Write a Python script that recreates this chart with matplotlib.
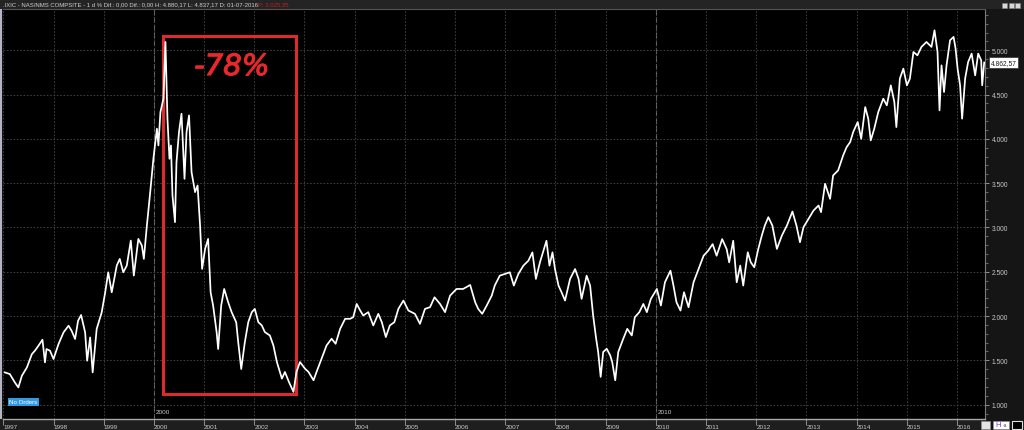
import matplotlib
matplotlib.use('Agg')
from matplotlib import pyplot as plt
from matplotlib.patches import Rectangle
from matplotlib import transforms
import matplotlib.patheffects as pe

W, H = 1024, 431

# Nasdaq composite (decimal year, index level)
dates = [
    1997.03, 1997.13, 1997.23, 1997.30, 1997.37, 1997.47, 1997.57, 1997.63, 1997.70, 1997.78,
    1997.83, 1997.86, 1997.93, 1998.00, 1998.10, 1998.20, 1998.30, 1998.36, 1998.43, 1998.49,
    1998.55, 1998.63, 1998.67, 1998.73, 1998.78, 1998.86, 1998.96, 1999.03, 1999.09, 1999.16,
    1999.26, 1999.32, 1999.39, 1999.46, 1999.54, 1999.60, 1999.69, 1999.76, 1999.80, 1999.86,
    1999.92, 1999.99, 2000.06, 2000.09, 2000.13, 2000.19, 2000.23, 2000.27, 2000.31, 2000.34,
    2000.37, 2000.42, 2000.45, 2000.50, 2000.55, 2000.61, 2000.65, 2000.70, 2000.75, 2000.82,
    2000.87, 2000.92, 2000.96, 2001.02, 2001.08, 2001.13, 2001.18, 2001.25, 2001.28, 2001.34,
    2001.40, 2001.48, 2001.55, 2001.64, 2001.68, 2001.74, 2001.81, 2001.88, 2001.95,
    2002.01, 2002.08, 2002.15, 2002.21, 2002.31, 2002.38, 2002.45, 2002.55, 2002.61, 2002.69,
    2002.78, 2002.84, 2002.91, 2003.01, 2003.08, 2003.18, 2003.24, 2003.34, 2003.44, 2003.54,
    2003.62, 2003.71, 2003.81, 2003.91, 2003.97, 2004.04, 2004.11, 2004.17, 2004.27, 2004.37,
    2004.47, 2004.54, 2004.62, 2004.70, 2004.79, 2004.87, 2004.97, 2005.07, 2005.20, 2005.30,
    2005.40, 2005.50, 2005.59, 2005.70, 2005.80, 2005.90, 2006.03, 2006.16, 2006.30, 2006.40,
    2006.46, 2006.54, 2006.63, 2006.73,
    2006.79, 2006.89, 2006.99, 2007.09, 2007.17, 2007.26, 2007.36, 2007.46, 2007.54, 2007.61,
    2007.69, 2007.76, 2007.82, 2007.88, 2007.94, 2007.99, 2008.06, 2008.12, 2008.19, 2008.29,
    2008.39, 2008.46, 2008.52, 2008.62, 2008.69, 2008.75, 2008.81, 2008.85, 2008.90, 2008.95,
    2009.02, 2009.09, 2009.13, 2009.19, 2009.25, 2009.35, 2009.43, 2009.52, 2009.58, 2009.67,
    2009.75, 2009.82, 2009.90, 2010.02, 2010.10, 2010.18, 2010.29, 2010.35, 2010.41, 2010.49,
    2010.56, 2010.65, 2010.75, 2010.85, 2010.95, 2011.04, 2011.13, 2011.21, 2011.32, 2011.41,
    2011.46, 2011.54,
    2011.61, 2011.68, 2011.74, 2011.83, 2011.89, 2011.96, 2012.04, 2012.11, 2012.17, 2012.24,
    2012.32, 2012.41, 2012.51, 2012.61, 2012.72, 2012.80, 2012.87, 2012.94, 2013.04, 2013.14,
    2013.24, 2013.29, 2013.37, 2013.47, 2013.53, 2013.63, 2013.73, 2013.80, 2013.87, 2013.93,
    2014.02, 2014.09, 2014.17, 2014.23, 2014.28, 2014.35, 2014.43, 2014.53, 2014.60, 2014.68,
    2014.75, 2014.79, 2014.86, 2014.93, 2015.00, 2015.06, 2015.13, 2015.21, 2015.29, 2015.39,
    2015.49, 2015.55, 2015.61, 2015.65, 2015.69, 2015.74, 2015.79, 2015.86, 2015.93, 2015.97,
    2016.01, 2016.06, 2016.10, 2016.16, 2016.22, 2016.29, 2016.36, 2016.42, 2016.48, 2016.50,
    2016.54,
]
closes = [
    1364, 1345, 1251, 1194, 1326, 1420, 1571, 1609, 1665, 1733,
    1477, 1628, 1609, 1515, 1684, 1816, 1891, 1835, 1741, 1948,
    2012, 1816, 1496, 1759, 1364, 1854, 2042, 2268, 2494, 2268,
    2570, 2645, 2494, 2570, 2852, 2457, 2871, 2796, 2645, 3022,
    3361, 3775, 4115, 3926, 4303, 4454, 5094, 4228, 3775, 3926,
    3361, 3060, 3738, 4077, 4284, 3549, 4077, 4265, 3625, 3399,
    3474, 3022, 2532, 2758, 2871, 2268, 2117, 1816, 1628, 2117,
    2306, 2155, 2042, 1929, 1703, 1402, 1700, 1931, 2044,
    2081, 1931, 1894, 1819, 1781, 1669, 1481, 1294, 1369, 1256,
    1144, 1369, 1481, 1406, 1369, 1275, 1369, 1519, 1669, 1744,
    1687, 1856, 1969, 1969, 1987, 2137, 2062, 2006, 2044, 1894,
    2025, 1931, 1763, 1894, 1931, 2081, 2175, 2062, 2025, 1912,
    2081, 2100, 2212, 2137, 2044, 2231, 2306, 2306, 2351, 2156,
    2081, 2025, 2119, 2231,
    2344, 2456, 2475, 2494, 2344, 2475, 2569, 2625, 2719, 2419,
    2606, 2737, 2850, 2569, 2719, 2531, 2344, 2269, 2175, 2419,
    2531, 2419, 2194, 2456, 2344, 2006, 1744, 1594, 1313, 1594,
    1631, 1556, 1481, 1275, 1594, 1744, 1856, 1781, 1987, 2044,
    2137, 2044, 2194, 2306, 2119, 2381, 2512, 2344, 2156, 2062,
    2269, 2100, 2381, 2531, 2681, 2737, 2812, 2681, 2869, 2756,
    2606, 2850,
    2381, 2570, 2344, 2720, 2607, 2551, 2758, 2909, 3022, 3116,
    3022, 2758, 2909, 3022, 3180, 3022, 2833, 3003, 3097, 3191,
    3248, 3173, 3493, 3323, 3587, 3644, 3813, 3907, 3964, 4077,
    4190, 4001, 4359, 4228, 3983, 4115, 4303, 4454, 4378, 4604,
    4416, 4133, 4680, 4793, 4604, 4680, 4981, 4943, 5038, 5094,
    5038, 5226, 4981, 4322, 4830, 4529, 4830, 5113, 5151, 5019,
    4793, 4604, 4228, 4680, 4868, 4962, 4717, 4962, 4887, 4604,
    4862.57,
]
last_close = 4862.57

year_ticks = list(range(1997, 2017))
price_ticks = list(range(1000, 5001, 500))
decade_marks = [2000, 2010]

title_text = ".IXIC - NAS/NMS COMPSITE - 1 d % Dif.: 0,00 Dif.: 0,00 H: 4.880,17 L: 4.837,17 D: 01-07-2016"
title_extra = "P: 3.025,35"
drop_label = "-78%"
drop_box = (2000.175, 1115, 2002.825, 5158)   # x0, y0, x1, y1

small_font = 'Liberation Sans'


def fx(px):
    return px / W


def fy(py):
    return 1 - py / H


fig = plt.figure(figsize=(W / 100, H / 100), dpi=100, facecolor='#151515')

# title bar and bottom bar (behind the axes)
fig.patches.append(Rectangle((0, fy(10)), 1, 10 / H, transform=fig.transFigure,
                             facecolor='#242424', edgecolor='none', zorder=-2))
fig.patches.append(Rectangle((0, 0), 985 / W, 11 / H, transform=fig.transFigure,
                             facecolor='#1e1e1e', edgecolor='none', zorder=-2))
fig.patches.append(Rectangle((0, fy(420)), 2 / W, 410 / H, transform=fig.transFigure,
                             facecolor='#b4b4c4', edgecolor='none', zorder=3))

fig.text(fx(3), fy(5), title_text, color='#d0d0d0', fontsize=4.3,
         family=small_font, va='center', ha='left')
fig.text(fx(258), fy(5), title_extra, color='#c81e1e', fontsize=4.3,
         family=small_font, va='center', ha='left')

# window buttons top right
for bx in (1002, 1008.5, 1015):
    fig.patches.append(Rectangle((fx(bx), fy(8.5)), 5 / W, 5 / H, transform=fig.transFigure,
                                 facecolor='#d8d8d8', edgecolor='#808080', lw=0.4, zorder=3))

# main chart
ax = fig.add_axes([fx(3), fy(420), 982 / W, 410 / H], facecolor='black')
ax.plot(dates, closes, color='white', lw=1.25, zorder=4)

ax.set_xlim(1996.994, 2016.556)
ax.set_ylim(838, 5466)

ax.set_xticks(year_ticks)
ax.set_xticklabels([str(y) for y in year_ticks], ha='left')
ax.set_yticks(price_ticks)
ax.set_yticklabels([f"{v:,}".replace(',', '.') for v in price_ticks])
ax.set_yticks(range(900, 5401, 100), minor=True)
ax.yaxis.tick_right()

ax.tick_params(axis='x', direction='out', length=4, width=0.6, color='#a0a0a0',
               labelcolor='#c8c8c8', labelsize=4.6, pad=-0.5)
ax.tick_params(axis='y', which='major', direction='out', length=3, width=0.6,
               color='#a0a0a0', labelcolor='#c8c8c8', labelsize=4.8, pad=2)
ax.tick_params(axis='y', which='minor', direction='out', length=1.8, width=0.5, color='#8a8a8a')
for lbl in ax.get_xticklabels():
    lbl.set_family(small_font)
for lbl in ax.get_yticklabels():
    lbl.set_family(small_font)

ax.grid(True, which='major', color='#474747', lw=0.6, ls=(0, (2, 2)))
for yr in decade_marks:
    ax.axvline(yr, color='#6c6c6c', lw=0.8, ls=(0, (5, 2)), zorder=1)
    ax.text(yr + 0.03, 0.012, str(yr), transform=transforms.blended_transform_factory(ax.transData, ax.transAxes),
            color='#c8c8c8', fontsize=4.6, family=small_font, ha='left', va='bottom')

ax.spines['left'].set_visible(False)
ax.spines['bottom'].set_color('#a8a8a8')
ax.spines['bottom'].set_linewidth(1.0)
ax.spines['right'].set_color('#7a7a7a')
ax.spines['top'].set_color('#555555')

# the -78% box
x0, y0, x1, y1 = drop_box
ax.add_patch(Rectangle((x0, y0), x1 - x0, y1 - y0, fill=False,
                       edgecolor='#dc2a2e', lw=2.2, zorder=3))
ax.text((x0 + x1) / 2 + 0.05, 4811, drop_label, color='#e8282c', fontsize=21,
        style='italic', ha='center', va='center', zorder=5,
        path_effects=[pe.withStroke(linewidth=0.8, foreground='#e8282c')])

# last price tag
ax.annotate(f"{last_close:,.2f}".replace(',', ' ').replace('.', ',').replace(' ', '.'),
            xy=(1, last_close), xycoords=('axes fraction', 'data'),
            xytext=(4, 0), textcoords='offset points', va='center', ha='left',
            fontsize=4.8, family=small_font, color='#202020',
            bbox=dict(boxstyle='square,pad=0.25', facecolor='white', edgecolor='#303030', lw=0.5),
            annotation_clip=False)

# "No Orders" badge
fig.patches.append(Rectangle((fx(7.5), fy(407)), 31 / W, 8 / H, transform=fig.transFigure,
                             facecolor='#3399e0', edgecolor='none', zorder=3))
fig.text(fx(23), fy(403), "No Orders", color='white', fontsize=4.4, family=small_font,
         ha='center', va='center', zorder=4)

# bottom-right buttons
fig.patches.append(Rectangle((fx(981), fy(430)), 9 / W, 8 / H, transform=fig.transFigure,
                             facecolor='#e4e4e4', edgecolor='#909090', lw=0.4, zorder=3))
fig.patches.append(Rectangle((fx(993), fy(430)), 16 / W, 8 / H, transform=fig.transFigure,
                             facecolor='white', edgecolor='#909090', lw=0.4, zorder=3))
fig.text(fx(998), fy(426), "H", color='#7a3cc8', fontsize=5.5, family=small_font,
         ha='center', va='center', zorder=4)
fig.text(fx(1005), fy(426), "-a", color='#505050', fontsize=3.5, family=small_font,
         ha='center', va='center', zorder=4)
fig.patches.append(Rectangle((fx(1012), fy(430)), 10 / W, 8 / H, transform=fig.transFigure,
                             facecolor='black', edgecolor='#e0e0e0', lw=0.8, zorder=3))

fig.savefig('out.png', dpi=100, facecolor=fig.get_facecolor())
